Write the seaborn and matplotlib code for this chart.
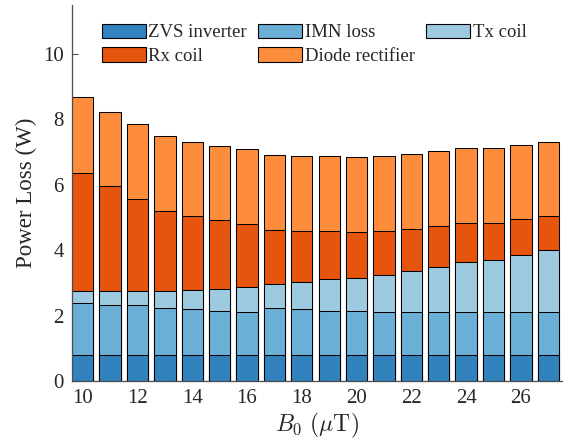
import matplotlib
matplotlib.use("Agg")
import matplotlib.pyplot as plt
from matplotlib.patches import Patch
import seaborn as sns
import numpy as np

# ---- data ----
b0 = [10, 11, 12, 13, 14, 15, 16, 17, 18, 19, 20, 21, 22, 23, 24, 25, 26, 27]
zvs_inverter = [0.78] * 18
imn_loss = [1.62, 1.53, 1.53, 1.46, 1.41, 1.36, 1.34, 1.45, 1.41, 1.37, 1.37, 1.34, 1.32, 1.32, 1.32, 1.32, 1.32, 1.32]
tx_coil = [0.36, 0.43, 0.43, 0.51, 0.59, 0.68, 0.77, 0.74, 0.84, 0.96, 1.00, 1.11, 1.25, 1.40, 1.55, 1.59, 1.74, 1.91]
rx_coil = [3.60, 3.21, 2.84, 2.45, 2.27, 2.09, 1.90, 1.65, 1.55, 1.49, 1.42, 1.37, 1.30, 1.24, 1.19, 1.15, 1.10, 1.04]
diode_rectifier = [2.34, 2.29, 2.29, 2.29, 2.27, 2.28, 2.30, 2.29, 2.29, 2.29, 2.29, 2.29, 2.29, 2.28, 2.29, 2.28, 2.28, 2.27]

series_names = ["ZVS inverter", "IMN loss", "Tx coil", "Rx coil", "Diode rectifier"]
series_vals = [zvs_inverter, imn_loss, tx_coil, rx_coil, diode_rectifier]
colors = ["#3182bd", "#6baed6", "#9ecae1", "#e6550d", "#fd8d3c"]
xticks = [10, 12, 14, 16, 18, 20, 22, 24, 26]
yticks = [0, 2, 4, 6, 8, 10]

sns.set_theme(style="ticks")
plt.rcParams["font.family"] = ["Liberation Serif", "DejaVu Serif"]
plt.rcParams["mathtext.fontset"] = "cm"

fig = plt.figure(figsize=(5.68, 4.43), dpi=100)
ax = fig.add_axes([72 / 568, 1 - 381 / 443, (562 - 72) / 568, (381 - 5) / 443])

cum = np.cumsum(np.array(series_vals), axis=0)
# draw from the top layer down so lower layers overlay
for i in range(len(series_names) - 1, -1, -1):
    sns.barplot(x=b0, y=cum[i], color=colors[i], native_scale=True, width=0.78,
                errorbar=None, edgecolor="black", linewidth=0.75, saturation=1,
                ax=ax)

ax.set_xlim(9.61, 27.5)
ax.set_ylim(0, 11.5)
ax.set_xticks(xticks)
ax.set_xticklabels([str(t) for t in xticks])
ax.set_yticks(yticks)
ax.set_yticklabels([str(t) for t in yticks])

spine_c = "#4d4d4d"
for s in ["top", "right"]:
    ax.spines[s].set_visible(False)
for s in ["left", "bottom"]:
    ax.spines[s].set_color(spine_c)
    ax.spines[s].set_linewidth(0.9)
ax.tick_params(direction="in", length=4, width=0.8, color=spine_c,
               labelsize=15, labelcolor="#262626", pad=6)

ax.set_xlabel(r"$B_0\ (\mu\mathrm{T})$", fontsize=17, color="#262626", labelpad=2)
ax.set_ylabel("Power Loss (W)", fontsize=16.5, color="#262626", labelpad=4)

handles = [Patch(facecolor=c, edgecolor="black", linewidth=0.8) for c in colors]
order = [0, 3, 1, 4, 2]
leg = fig.legend([handles[i] for i in order], [series_names[i] for i in order],
                 ncol=3, loc="upper left",
                 bbox_to_anchor=(94 / 568, 1 - 16 / 443), bbox_transform=fig.transFigure,
                 frameon=False, fontsize=13.5, handlelength=2.35, handleheight=0.85,
                 handletextpad=0.15, columnspacing=0.6, labelspacing=0.3,
                 borderpad=0.4, borderaxespad=0)
for t in leg.get_texts():
    t.set_color("#262626")

fig.savefig("out.png", dpi=100)
